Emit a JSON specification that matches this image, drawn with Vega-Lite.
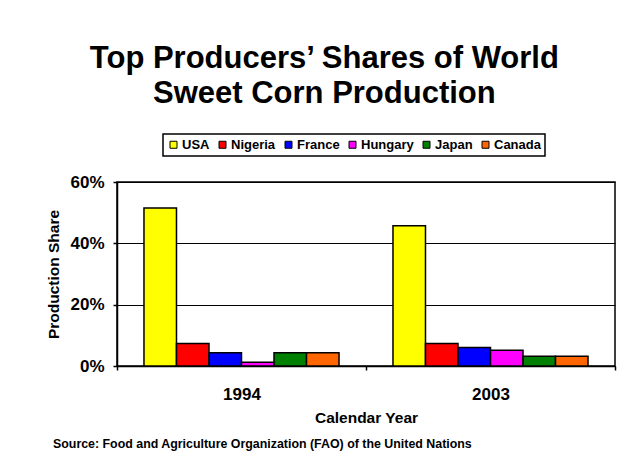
{
  "$schema": "https://vega.github.io/schema/vega-lite/v6.json",
  "autosize": {"type": "none"},
  "padding": {"left": 117, "top": 182, "right": 511, "bottom": 291},
  "background": "white",
  "title": {
    "text": ["Top Producers’ Shares of World", "Sweet Corn Production"],
    "font": "Liberation Sans",
    "fontWeight": "bold",
    "fontSize": 31,
    "lineHeight": 35,
    "color": "black",
    "anchor": "middle",
    "dx": -7,
    "offset": 23
  },
  "data": {
    "values": [
      {"year": "1994", "country": "USA", "share": 0.515},
      {"year": "1994", "country": "Nigeria", "share": 0.073},
      {"year": "1994", "country": "France", "share": 0.043},
      {"year": "1994", "country": "Hungary", "share": 0.012},
      {"year": "1994", "country": "Japan", "share": 0.043},
      {"year": "1994", "country": "Canada", "share": 0.043},
      {"year": "2003", "country": "USA", "share": 0.457},
      {"year": "2003", "country": "Nigeria", "share": 0.073},
      {"year": "2003", "country": "France", "share": 0.06},
      {"year": "2003", "country": "Hungary", "share": 0.051},
      {"year": "2003", "country": "Japan", "share": 0.032},
      {"year": "2003", "country": "Canada", "share": 0.032}
    ]
  },
  "vconcat": [
    {
      "width": 498,
      "height": 184,
      "title": {
        "text": "Source:  Food and Agriculture Organization (FAO) of the United Nations",
        "orient": "bottom",
        "anchor": "start",
        "font": "Liberation Sans",
        "fontWeight": "bold",
        "fontSize": 12.4,
        "color": "black",
        "dx": 6,
        "offset": 12
      },
      "mark": {"type": "bar", "stroke": "black", "strokeWidth": 1.5},
      "encoding": {
        "x": {
          "field": "year",
          "type": "nominal",
          "scale": {"paddingInner": 0, "paddingOuter": 0},
          "axis": {
            "title": "Calendar Year",
            "labelAngle": 0,
            "tickBand": "extent",
            "tickSize": 4,
            "labelPadding": 16,
            "titlePadding": 8
          }
        },
        "xOffset": {
          "field": "country",
          "type": "nominal",
          "sort": ["USA", "Nigeria", "France", "Hungary", "Japan", "Canada"],
          "scale": {"paddingInner": 0, "paddingOuter": 0.83}
        },
        "y": {
          "field": "share",
          "type": "quantitative",
          "scale": {"domain": [0, 0.6], "nice": false},
          "axis": {
            "title": "Production Share",
            "values": [0, 0.2, 0.4, 0.6],
            "format": ".0%",
            "grid": true,
            "tickSize": 4,
            "labelPadding": 9,
            "titlePadding": 8
          }
        },
        "color": {
          "field": "country",
          "type": "nominal",
          "scale": {
            "domain": ["USA", "Nigeria", "France", "Hungary", "Japan", "Canada"],
            "range": ["#FFFF00", "#FF0000", "#0000FF", "#FF00FF", "#008000", "#FF6600"]
          },
          "legend": {
            "title": null,
            "orient": "none",
            "direction": "horizontal",
            "columns": 6,
            "legendX": 46,
            "legendY": -48,
            "strokeColor": "black",
            "padding": 4,
            "symbolType": "square",
            "symbolSize": 49,
            "symbolStrokeColor": "black",
            "symbolStrokeWidth": 1,
            "labelFont": "Liberation Sans",
            "labelFontWeight": "bold",
            "labelFontSize": 13,
            "labelColor": "black",
            "labelOffset": 2,
            "columnPadding": 6
          }
        }
      }
    }
  ],
  "config": {
    "view": {"stroke": "black", "strokeWidth": 1.5},
    "legend": {"strokeWidth": 1.5},
    "axis": {
      "labelFont": "Liberation Sans",
      "labelFontWeight": "bold",
      "labelFontSize": 17,
      "labelColor": "black",
      "titleFont": "Liberation Sans",
      "titleFontWeight": "bold",
      "titleFontSize": 15.5,
      "titleColor": "black",
      "domainColor": "black",
      "domainWidth": 1.5,
      "tickColor": "black",
      "tickWidth": 1.5,
      "gridColor": "black",
      "gridWidth": 1,
      "gridOpacity": 1
    }
  }
}
